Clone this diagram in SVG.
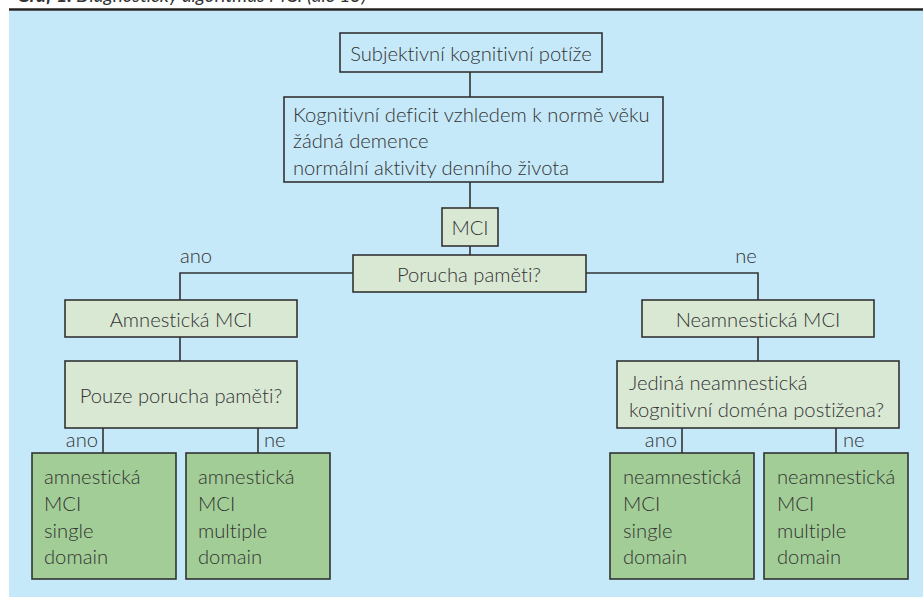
<svg xmlns="http://www.w3.org/2000/svg" width="923" height="597" viewBox="0 0 923 597">
<style>
.t{font-family:"Lato","Open Sans","Liberation Sans",sans-serif;font-size:20.2px;font-weight:300;fill:#333;font-variant-ligatures:none}
.c{text-anchor:middle}
.bb{fill:#c6e9f9;stroke:#333;stroke-width:1.6}
.lg{fill:#d9e8d3;stroke:#333;stroke-width:1.6}
.dg{fill:#a2cd97;stroke:#333;stroke-width:1.6}
.ln{stroke:#333;stroke-width:1.6;fill:none}
</style>
<rect x="0" y="0" width="923" height="597" fill="#ffffff"/>
<text x="17" y="2" font-family="'Lato','Liberation Sans',sans-serif" font-size="19" font-style="italic" fill="#333"><tspan font-weight="bold">Graf 1.</tspan> Diagnostický algoritmus MCI (dle 15)</text>
<rect x="9" y="11" width="914" height="586" fill="#c6e9f9"/>
<line x1="9" y1="9.5" x2="923" y2="9.5" stroke="#222" stroke-width="2.6"/>
<g id="connectors">
<path class="ln" d="M470 72V97M470 182V208M470 246V255"/>
<path class="ln" d="M353 273H180V300M180 337V361"/>
<path class="ln" d="M586 273H758V300M758 337V361"/>
<path class="ln" d="M103 428V453M258 428V453"/>
<path class="ln" d="M682 428V453M836 428V453"/>
<text class="t c" x="196" y="263">ano</text>
<text class="t c" x="746" y="263">ne</text>
<text class="t" x="98" y="447" text-anchor="end">ano</text>
<text class="t" x="264" y="447">ne</text>
<text class="t" x="677" y="447" text-anchor="end">ano</text>
<text class="t" x="843" y="447">ne</text>
</g>
<g id="n1"><rect class="bb" x="340" y="33" width="262" height="39"/><text class="t c" x="471" y="61">Subjektivní kognitivní potíže</text></g>
<g id="n2"><rect class="bb" x="284" y="97" width="379" height="85"/>
<text class="t" x="293" y="122">Kognitivní deficit vzhledem k normě věku</text>
<text class="t" x="293" y="148">žádná demence</text>
<text class="t" x="293" y="175">normální aktivity denního života</text></g>
<g id="n3"><rect class="lg" x="442" y="208" width="56" height="38"/><text class="t c" x="470" y="235">MCI</text></g>
<g id="n4"><rect class="lg" x="353" y="255" width="233" height="37"/><text class="t c" x="469" y="282">Porucha paměti?</text></g>
<g id="n5"><rect class="lg" x="65" y="300" width="232" height="37"/><text class="t c" x="181" y="327">Amnestická MCI</text></g>
<g id="n6"><rect class="lg" x="642" y="300" width="232" height="37"/><text class="t c" x="758" y="327">Neamnestická MCI</text></g>
<g id="n7"><rect class="lg" x="65" y="361" width="232" height="67"/><text class="t c" x="181" y="403">Pouze porucha paměti?</text></g>
<g id="n8"><rect class="lg" x="617" y="361" width="282" height="67"/>
<text class="t" x="629" y="390">Jediná neamnestická</text>
<text class="t" x="629" y="417">kognitivní doména postižena?</text></g>
<g id="n9"><rect class="dg" x="32" y="453" width="144" height="126"/>
<text class="t" x="44" y="484">amnestická</text><text class="t" x="44" y="511">MCI</text><text class="t" x="44" y="538">single</text><text class="t" x="44" y="564">domain</text></g>
<g id="n10"><rect class="dg" x="186" y="453" width="144" height="126"/>
<text class="t" x="198" y="484">amnestická</text><text class="t" x="198" y="511">MCI</text><text class="t" x="198" y="538">multiple</text><text class="t" x="198" y="564">domain</text></g>
<g id="n11"><rect class="dg" x="610" y="453" width="144" height="126"/>
<text class="t" x="623" y="484">neamnestická</text><text class="t" x="623" y="511">MCI</text><text class="t" x="623" y="538">single</text><text class="t" x="623" y="564">domain</text></g>
<g id="n12"><rect class="dg" x="764" y="453" width="144" height="126"/>
<text class="t" x="777" y="484">neamnestická</text><text class="t" x="777" y="511">MCI</text><text class="t" x="777" y="538">multiple</text><text class="t" x="777" y="564">domain</text></g>
</svg>
